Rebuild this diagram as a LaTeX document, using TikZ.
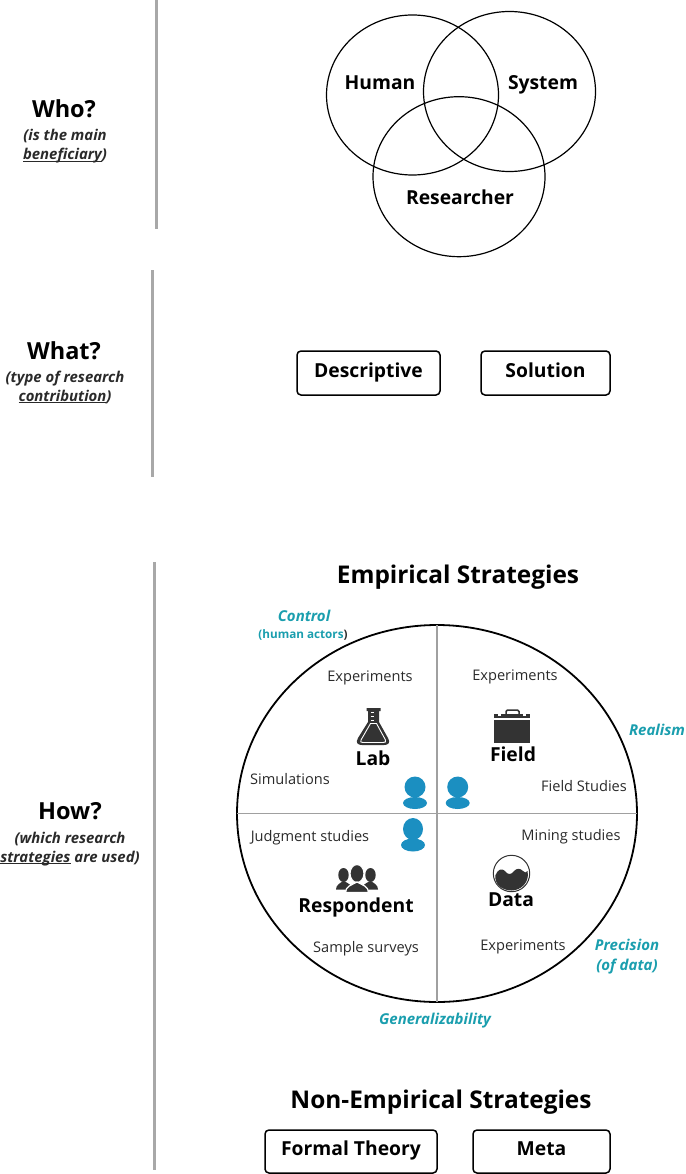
\documentclass[tikz,border=0pt]{standalone}
\usepackage{fontspec}
\setmainfont{Open Sans}
\usepackage{tikz}
\usetikzlibrary{shapes.geometric}

\definecolor{rulegray}{HTML}{A8A8A8}
\definecolor{quadgray}{HTML}{A0A0A0}
\definecolor{tealtext}{HTML}{1A9EAE}
\definecolor{personblue}{HTML}{1B8FC1}
\definecolor{icondark}{HTML}{333333}
\definecolor{labeldark}{HTML}{2A2A2A}

\tikzset{
    onbase/.style={anchor=base, inner sep=0},
    questiontext/.style={font=\fontsize{23.5}{26}\selectfont\bfseries, text=black, onbase},
    hinttext/.style={font=\fontsize{14.9}{16}\selectfont\bfseries\itshape, text=labeldark, onbase},
    titletext/.style={font=\fontsize{24.4}{26}\selectfont\bfseries, text=black, onbase},
    nametext/.style={font=\fontsize{19.3}{22}\selectfont\bfseries, text=black, onbase},
    itemtext/.style={font=\fontsize{14.6}{16}\selectfont, text=labeldark, onbase},
    axistext/.style={font=\fontsize{15}{16}\selectfont\bfseries\itshape, text=tealtext, onbase},
    beneficiary/.style={draw, ellipse, line width=1.2, minimum width=172, minimum height=160, outer sep=0},
    boxnode/.style={nametext, anchor=center, text height=14pt, text depth=6pt, draw, rounded corners=4, line width=1.5, outer sep=0},
    rulegrayline/.style={draw=rulegray, line width=3},
    quadline/.style={draw=quadgray, line width=1.4}
}

\begin{document}
\begin{tikzpicture}[x=1pt, y=-1pt]
    \useasboundingbox (0,0) rectangle (685,1174);

    % left column
    \draw[rulegrayline] (156.5,0) -- (156.5,229);
    \draw[rulegrayline] (152.5,270) -- (152.5,477);
    \draw[rulegrayline] (154.5,562) -- (154.5,1170);
    \node[questiontext] (who) at (64,118) {Who?};
    \node[hinttext] (who1) at (65,141) {(is the main};
    \node[hinttext] (who2) at (65,160) {\underline{\smash{beneficiary}})};
    \node[questiontext] (what) at (64,359) {What?};
    \node[hinttext] (what1) at (65,382) {(type of research};
    \node[hinttext] (what2) at (65,401) {\underline{contribution})};
    \node[questiontext] (how) at (70,819) {How?};
    \node[hinttext] (how1) at (70,843) {(which research};
    \node[hinttext] (how2) at (70,862) {\underline{\smash{strategies}} are used)};

    % who
    \node[beneficiary] (human) at (412.5,95) {};
    \node[beneficiary] (system) at (509.5,91.5) {};
    \node[beneficiary] (researcher) at (459,176.7) {};
    \node[nametext] (humanlabel) at (380,90) {Human};
    \node[nametext] (systemlabel) at (543,90) {System};
    \node[nametext] (researcherlabel) at (460,205) {Researcher};

    % what
    \node[boxnode, minimum width=143, minimum height=44] (descriptive) at (368.5,373) {Descriptive};
    \node[boxnode, minimum width=129, minimum height=44] (solution) at (545.5,373) {Solution};

    % how
    \node[titletext] (empirical) at (458,583) {Empirical Strategies};
    \node[draw, ellipse, line width=1.8, minimum width=400, minimum height=377, outer sep=0] (quad) at (437,813.5) {};
    \draw[quadline] (quad.north) -- (quad.south);
    \draw[quadline] (quad.west) -- (quad.east);

    \node[axistext] (control) at (304,621.5) {Control};
    \node[font=\fontsize{11.7}{13}\selectfont\bfseries, text=tealtext, onbase] (actors) at (303,638) {(human actors\textcolor{labeldark}{)}};
    \node[axistext] (realism) at (657,735.5) {Realism};
    \node[axistext] (precision) at (627,950.5) {Precision};
    \node[axistext] (ofdata) at (627,970) {(of data)};
    \node[axistext] (general) at (435,1024) {Generalizability};

    \node[itemtext] (exp1) at (370,681) {Experiments};
    \node[itemtext] (exp2) at (515,680) {Experiments};
    \node[itemtext] (simul) at (290,784) {Simulations};
    \node[itemtext] (fieldst) at (584,791.5) {Field Studies};
    \node[itemtext] (judg) at (310,841.5) {Judgment studies};
    \node[itemtext] (mining) at (571,840) {Mining studies};
    \node[itemtext] (sample) at (366,952.5) {Sample surveys};
    \node[itemtext] (exp3) at (523,950.5) {Experiments};

    \node[nametext] (lab) at (373,765) {Lab};
    \node[nametext] (field) at (513,761.5) {Field};
    \node[nametext] (respondent) at (356,912.5) {Respondent};
    \node[nametext] (data) at (511,906.5) {Data};

    % persons
    \fill[personblue] (415,787) circle (10.5);
    \fill[personblue] (415,803) ellipse (12 and 6);
    \fill[personblue] (457.7,787) circle (10.5);
    \fill[personblue] (457.7,803) ellipse (12 and 6);
    \fill[personblue] (413,829) ellipse (10 and 11);
    \fill[personblue] (413,845) ellipse (12 and 6.5);

    % flask
    \fill[icondark] (366.5,708) -- (380.5,708) -- (380.5,711) -- (379,711) -- (379,722)
        -- (388,738) .. controls (391,743) and (388,745) .. (384,745)
        -- (362,745) .. controls (358,745) and (355,743) .. (358,738)
        -- (368,722) -- (368,711) -- (366.5,711) -- cycle;
    \draw[white, line width=0.9] (370.5,712) -- (374,712) (370.5,716) -- (374,716) (370.5,720) -- (374,720);
    \draw[white, line width=0.9] (370.5,723.5) -- (376.5,723.5) -- (385.5,740)
        .. controls (386.5,742) and (385,742.5) .. (383,742.5) -- (363,742.5)
        .. controls (361,742.5) and (360,742) .. (361,740) -- cycle;

    % briefcase
    \draw[icondark, line width=1.5, rounded corners=1.5] (506,714) -- (506,710) -- (519,710) -- (519,714);
    \fill[icondark] (493.5,713.5) rectangle (530,718);
    \fill[icondark] (493.5,719.5) rectangle (530,743);
    \fill[white] (498,714) rectangle (501,716);
    \fill[white] (523,714) rectangle (526,716);

    % data
    \draw[icondark, line width=1] (511.5,873.5) circle (18.2);
    \fill[icondark] (495.5,875) .. controls (498,869) and (502,868) .. (505,871)
        .. controls (508,875) and (511,875) .. (514,871)
        .. controls (517,868) and (520,868) .. (523,871)
        .. controls (525,873) and (526,873) .. (527.5,871)
        .. controls (530,882) and (521,890.5) .. (511.5,890.5)
        .. controls (502,890.5) and (494,884) .. (495.5,875) -- cycle;

    % respondents
    \fill[icondark] (343.5,875) ellipse (5.2 and 7);
    \fill[icondark] (336,889.5) .. controls (336,885) and (340,883) .. (343.5,881) .. controls (348,883) and (352,885) .. (352,889.5) -- cycle;
    \fill[icondark] (370.5,875) ellipse (5.2 and 7);
    \fill[icondark] (362,889.5) .. controls (362,885) and (366,883) .. (370.5,881) .. controls (374,883) and (378,885) .. (378,889.5) -- cycle;
    \draw[white, line width=1.2, fill=icondark] (357,873.5) ellipse (7 and 9);
    \draw[white, line width=1.2, fill=icondark] (345.5,892.5) .. controls (345.5,886) and (352,885) .. (357,882) .. controls (362,885) and (368.5,886) .. (368.5,892.5) -- cycle;

    % non-empirical
    \node[titletext] (nonempirical) at (441,1108) {Non-Empirical Strategies};
    \node[boxnode, minimum width=172, minimum height=43] (formal) at (351,1151.5) {Formal Theory};
    \node[boxnode, minimum width=137, minimum height=43] (meta) at (541.5,1151.5) {Meta};
\end{tikzpicture}
\end{document}
